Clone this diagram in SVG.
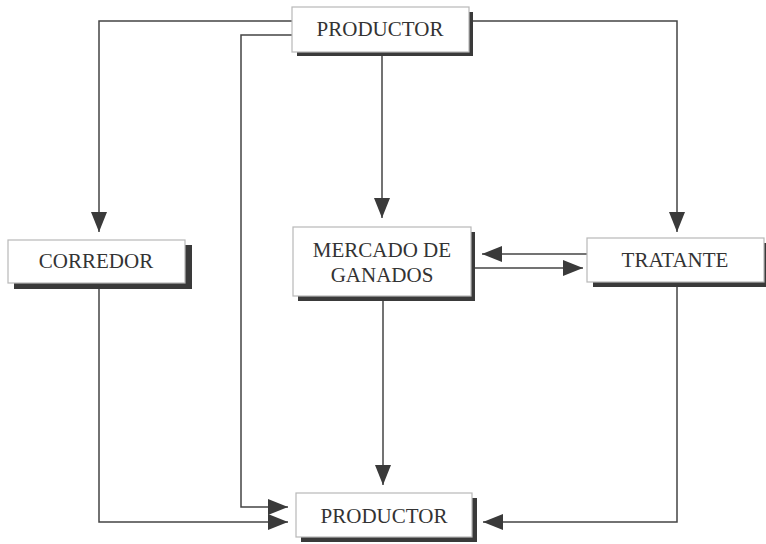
<svg xmlns="http://www.w3.org/2000/svg" width="766" height="544" viewBox="0 0 766 544">
<style>
.box{fill:#fff;stroke:#b8b8b8;stroke-width:1.2}
.sh{fill:#3a3a3a}
.t{font-family:"Liberation Serif","Times New Roman",serif;font-size:21px;fill:#333;text-anchor:middle}
.c{fill:none;stroke:#444;stroke-width:1.5}
</style>
<defs>
<marker id="a" viewBox="0 0 20 16" refX="20" refY="8" markerWidth="20" markerHeight="16" markerUnits="userSpaceOnUse" orient="auto">
<path d="M0,0 L20,8 L0,16 Z" fill="#3a3a3a"/>
</marker>
</defs>
<rect width="766" height="544" fill="#fff"/>
<g id="connectors">
<path class="c" d="M292,21 H99 V232" marker-end="url(#a)"/>
<path class="c" d="M292,35 H241 V507 H288" marker-end="url(#a)"/>
<path class="c" d="M473,21 H677 V232" marker-end="url(#a)"/>
<path class="c" d="M382,56 V218" marker-end="url(#a)"/>
<path class="c" d="M587,254 H482" marker-end="url(#a)"/>
<path class="c" d="M475,268 H583" marker-end="url(#a)"/>
<path class="c" d="M383,301 V485" marker-end="url(#a)"/>
<path class="c" d="M99,289 V522 H288" marker-end="url(#a)"/>
<path class="c" d="M677,287 V522 H483" marker-end="url(#a)"/>
</g>
<g id="productor-top">
<rect class="sh" x="297" y="12" width="176" height="44"/>
<rect class="box" x="292" y="7" width="177" height="45"/>
<text class="t" x="380" y="36">PRODUCTOR</text>
</g>
<g id="corredor">
<rect class="sh" x="14" y="245" width="178" height="44"/>
<rect class="box" x="8" y="240" width="177" height="43"/>
<text class="t" x="96" y="268">CORREDOR</text>
</g>
<g id="mercado">
<rect class="sh" x="298" y="232" width="177" height="69"/>
<rect class="box" x="293" y="227" width="178" height="69"/>
<text class="t" x="382" y="257">MERCADO DE</text>
<text class="t" x="382" y="282">GANADOS</text>
</g>
<g id="tratante">
<rect class="sh" x="593" y="243" width="175" height="44"/>
<rect class="box" x="587" y="238" width="177" height="44"/>
<text class="t" x="675" y="267">TRATANTE</text>
</g>
<g id="productor-bottom">
<rect class="sh" x="301" y="498" width="176" height="44"/>
<rect class="box" x="296" y="493" width="176" height="44"/>
<text class="t" x="384" y="523">PRODUCTOR</text>
</g>
</svg>
